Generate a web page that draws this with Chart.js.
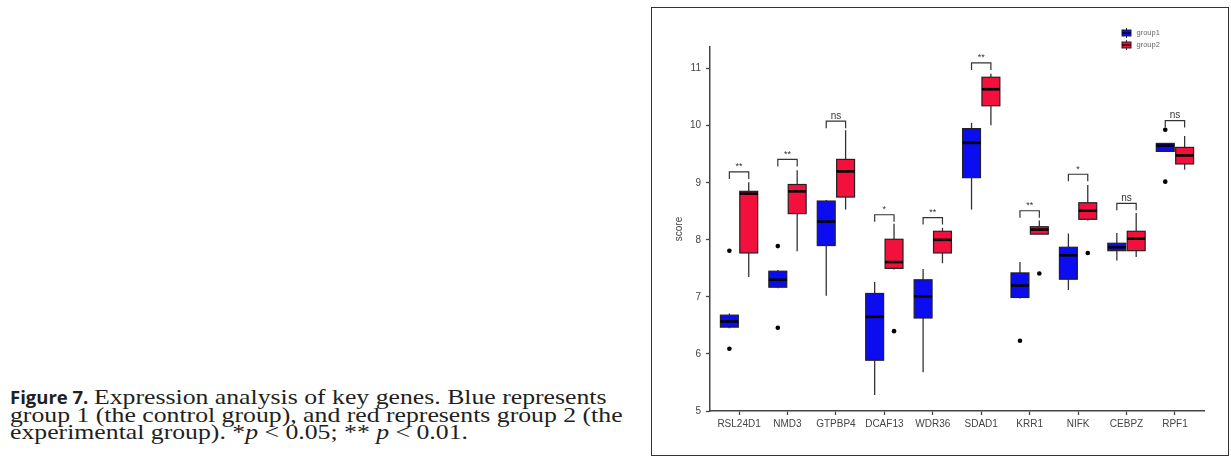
<!DOCTYPE html>
<html>
<head>
<meta charset="utf-8">
<script src="https://cdn.jsdelivr.net/npm/chart.js@4"></script>
<style>
html,body{margin:0;padding:0;background:#fff;width:1231px;height:461px;overflow:hidden;}
#frame{position:absolute;left:651px;top:7px;width:578px;height:449px;box-sizing:border-box;border:1.5px solid #333;}
#wrap{position:absolute;left:652px;top:8px;width:575px;height:447px;}
#caption{position:absolute;left:10px;top:388px;font:22px/17.5px "Liberation Serif","Times New Roman",serif;color:#231f20;white-space:nowrap;}
#caption div{height:17.5px;}
#caption b{font-family:"Open Sans","Liberation Sans",sans-serif;font-weight:700;font-size:18.5px;vertical-align:top;}
#caption span{display:inline-block;transform:scaleX(1.17);transform-origin:left center;}
</style>
</head>
<body>
<div id="caption">
<div><b>Figure 7.</b> <span>Expression analysis of key genes. Blue represents</span></div>
<div><span>group 1 (the control group), and red represents group 2 (the</span></div>
<div><span>experimental group). *<i>p</i> &lt; 0.05; ** <i>p</i> &lt; 0.01.</span></div>
</div>
<div id="frame"></div>
<div id="wrap"><canvas id="c" width="575" height="447"></canvas></div>
<script>
const genes = ['RSL24D1','NMD3','GTPBP4','DCAF13','WDR36','SDAD1','KRR1','NIFK','CEBPZ','RPF1'];
const yTicks = [5,6,7,8,9,10,11];

// group1 (blue): lower whisker, q1, median, q3, upper whisker, outliers
const g1Low  = [6.45, 7.15, 7.02, 5.28, 5.68, 8.53, 6.97, 7.12, 7.64, 9.55];
const g1Q1   = [6.47, 7.17, 7.90, 5.89, 6.63, 9.09, 6.99, 7.31, 7.81, 9.55];
const g1Med  = [6.57, 7.30, 8.32, 6.65, 7.01, 9.70, 7.20, 7.73, 7.87, 9.65];
const g1Q3   = [6.68, 7.45, 8.68, 7.06, 7.30, 9.95, 7.42, 7.87, 7.94, 9.69];
const g1High = [6.71, 7.47, 8.70, 7.26, 7.49, 10.05, 7.61, 8.11, 8.12, 9.69];
const g1Out  = [[7.81, 6.09], [7.89, 6.46], [], [], [], [], [6.23], [], [], [9.93, 9.02]];

// group2 (red)
const g2Low  = [7.35, 7.80, 8.53, 7.48, 7.59, 10.01, 8.10, 8.34, 7.70, 9.23];
const g2Q1   = [7.77, 8.46, 8.75, 7.50, 7.77, 10.35, 8.10, 8.36, 7.81, 9.33];
const g2Med  = [8.81, 8.85, 9.20, 7.61, 8.00, 10.64, 8.18, 8.51, 8.02, 9.48];
const g2Q3   = [8.85, 8.97, 9.41, 8.01, 8.15, 10.85, 8.23, 8.65, 8.15, 9.62];
const g2High = [9.01, 9.22, 9.92, 8.28, 8.21, 10.91, 8.34, 8.96, 8.47, 9.82];
const g2Out  = [[], [], [], [6.40], [], [], [7.41], [7.77], [], []];

// significance brackets
const sigLabels = ['**','**','ns','*','**','**','**','*','ns','ns'];
const sigY      = [9.19, 9.41, 10.08, 8.44, 8.39, 11.10, 8.51, 9.15, 8.64, 10.09];

const BLUE = '#0c0cf0', RED = '#f2103c';
const DODGE = 0.2, BOXW = 0.37;
const AXIS = '#444', FONT = '"Liberation Sans", Arial, sans-serif';

const groups = [
  {name:'group1', fill:BLUE, off:-DODGE, lo:g1Low, q1:g1Q1, med:g1Med, q3:g1Q3, hi:g1High, out:g1Out},
  {name:'group2', fill:RED,  off:DODGE,  lo:g2Low, q1:g2Q1, med:g2Med, q3:g2Q3, hi:g2High, out:g2Out}
];

const outlierData = g => g.out.flatMap((vals,i)=>vals.map(v=>({x:i+1+g.off, y:v})));

function line(ctx,x1,y1,x2,y2){ ctx.beginPath(); ctx.moveTo(x1,y1); ctx.lineTo(x2,y2); ctx.stroke(); }

const boxPlugin = {
  id:'boxes',
  beforeDatasetsDraw(chart){
    const {ctx, scales:{x,y}} = chart;
    const half = (x.getPixelForValue(BOXW) - x.getPixelForValue(0))/2;
    ctx.save();
    genes.forEach((g,i)=>{
      groups.forEach(s=>{
        const cx = x.getPixelForValue(i+1+s.off);
        const yq1 = y.getPixelForValue(s.q1[i]), yq3 = y.getPixelForValue(s.q3[i]);
        ctx.strokeStyle = '#333'; ctx.lineWidth = 1.3;
        line(ctx, cx, y.getPixelForValue(s.hi[i]), cx, yq3);
        line(ctx, cx, yq1, cx, y.getPixelForValue(s.lo[i]));
        ctx.fillStyle = s.fill;
        ctx.fillRect(cx-half, yq3, half*2, yq1-yq3);
        ctx.strokeStyle = '#222'; ctx.lineWidth = 1.2;
        ctx.strokeRect(cx-half, yq3, half*2, yq1-yq3);
        ctx.strokeStyle = '#000'; ctx.lineWidth = 2.6;
        const ym = y.getPixelForValue(s.med[i]);
        line(ctx, cx-half, ym, cx+half, ym);
      });
    });
    ctx.restore();
  },
  afterDatasetsDraw(chart){
    const {ctx, scales:{x,y}} = chart;
    ctx.save();
    // brackets
    genes.forEach((g,i)=>{
      const x1 = x.getPixelForValue(i+1-DODGE), x2 = x.getPixelForValue(i+1+DODGE);
      const yt = y.getPixelForValue(sigY[i]);
      ctx.strokeStyle = '#333'; ctx.lineWidth = 1.2;
      ctx.beginPath(); ctx.moveTo(x1, yt+7); ctx.lineTo(x1, yt); ctx.lineTo(x2, yt); ctx.lineTo(x2, yt+7); ctx.stroke();
      ctx.fillStyle = '#333'; ctx.textAlign = 'center'; ctx.textBaseline = 'alphabetic';
      ctx.font = (sigLabels[i]==='ns' ? '10px ' : '9px ') + FONT;
      ctx.fillText(sigLabels[i], (x1+x2)/2, yt-2.5);
    });
    // legend
    groups.forEach((s,k)=>{
      const cx = 474.5, cy = 25 + k*12;
      ctx.strokeStyle = '#333'; ctx.lineWidth = 1;
      line(ctx, cx, cy-5, cx, cy+5);
      ctx.fillStyle = s.fill; ctx.fillRect(cx-4.5, cy-3, 9, 6);
      ctx.strokeStyle = '#222'; ctx.strokeRect(cx-4.5, cy-3, 9, 6);
      ctx.strokeStyle = '#000'; ctx.lineWidth = 1.2; line(ctx, cx-4.5, cy, cx+4.5, cy);
      ctx.fillStyle = '#666'; ctx.font = '7.5px ' + FONT; ctx.textAlign = 'left'; ctx.textBaseline = 'middle';
      ctx.fillText(s.name, cx+10, cy);
    });
    ctx.restore();
  }
};

new Chart(document.getElementById('c'), {
  type:'scatter',
  data:{
    datasets: groups.map(s=>({
      label:s.name, data:outlierData(s),
      pointRadius:2.3, pointBackgroundColor:'#000', pointBorderWidth:0, pointHoverRadius:2.3
    }))
  },
  options:{
    responsive:false, animation:false,
    layout:{padding:{top:39, right:23, left:0, bottom:0}},
    plugins:{legend:{display:false}, tooltip:{enabled:false}},
    scales:{
      x:{
        type:'linear', min:0.4, max:10.6,
        afterBuildTicks: s => { s.ticks = genes.map((g,i)=>({value:i+1})); },
        afterFit: s => { s.height = 44; },
        ticks:{callback:v=>genes[v-1], color:AXIS, font:{family:FONT, size:10}, padding:3, maxRotation:0, autoSkip:false},
        grid:{drawOnChartArea:false, drawTicks:true, tickLength:4, tickColor:AXIS, tickWidth:1.3},
        border:{display:true, color:AXIS, width:1.5}
      },
      y:{
        min:5, max:11.38,
        afterBuildTicks: s => { s.ticks = yTicks.map(v=>({value:v})); },
        afterFit: s => { s.width = 58; },
        ticks:{color:AXIS, font:{family:FONT, size:10}, padding:5},
        grid:{drawOnChartArea:false, drawTicks:true, tickLength:4, tickColor:AXIS, tickWidth:1.3},
        border:{display:true, color:AXIS, width:1.5},
        title:{display:true, text:'score', color:AXIS, font:{family:FONT, size:10}, padding:{top:21, bottom:0}}
      }
    }
  },
  plugins:[boxPlugin]
});
</script>
</body>
</html>
